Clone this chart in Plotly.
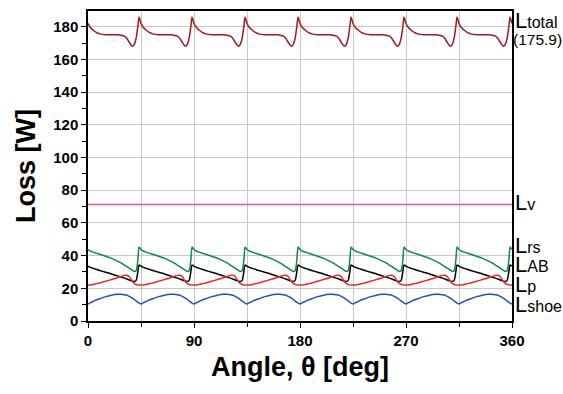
import plotly.graph_objects as go

# One 45-degree period of each curve (angle offset in deg)
period_deg = 45
n_periods = 8
phi = [0, 2, 4.5, 7, 10, 15, 20, 25, 28, 31, 33, 35, 36.5, 38, 39.5, 41, 42.3, 43.3, 44.2]

L_total = [182, 179.5, 177.8, 176.5, 175.6, 175.1, 175, 175, 174.8, 174.2, 172.8, 170.5, 168.8, 168, 169.5, 173.5, 180, 186, 184]
L_rs = [43.7, 42.8, 42.1, 41.5, 40.8, 39.6, 38.3, 36.6, 35.5, 34.2, 33.3, 32.3, 31.6, 30.8, 30.2, 31, 37, 45.3, 44.5]
L_AB = [33.6, 32.8, 32.2, 31.6, 30.9, 29.8, 28.8, 27.6, 26.9, 26.2, 25.7, 25.1, 24.7, 24.4, 24.2, 25, 30, 34.2, 34]
L_p = [22, 22, 22.3, 22.8, 23.3, 24.3, 25.4, 26.5, 27.3, 27.9, 28, 27.2, 25.5, 23.8, 22.8, 22.3, 22.1, 22, 22]
L_shoe = [10.4, 11.2, 12, 12.8, 13.6, 14.9, 15.8, 16.3, 16.4, 16.1, 15.8, 15.1, 14.5, 13.8, 13, 12.2, 11.5, 11, 10.6]
L_v = 71.2
L_total_mean = "175.9"

x_ticks = [0, 90, 180, 270, 360]
y_ticks = [0, 20, 40, 60, 80, 100, 120, 140, 160, 180]


def tile(vals):
    xs, ys = [], []
    for k in range(n_periods):
        for p, v in zip(phi, vals):
            xs.append(k * period_deg + p)
            ys.append(v)
    xs.append(n_periods * period_deg)
    ys.append(vals[0])
    return xs, ys


FONT = "Liberation Sans, Arial, sans-serif"
LFONT = "Liberation Sans Narrow, Arial Narrow, Liberation Sans, sans-serif"
fig = go.Figure()

series = [
    (L_total, "#9b1b1f", "L_total"),
    (L_rs, "#0d8a45", "L_rs"),
    (L_AB, "#000000", "L_AB"),
    (L_p, "#f0282d", "L_p"),
    (L_shoe, "#2a4fb0", "L_shoe"),
]
for vals, col, name in series:
    xs, ys = tile(vals)
    fig.add_trace(go.Scatter(x=xs, y=ys, mode="lines", name=name,
                             line=dict(color=col, width=1.5, shape="spline", smoothing=0.5)))

fig.add_trace(go.Scatter(x=[0, 360], y=[L_v, L_v], mode="lines", name="L_v",
                         line=dict(color="#e05aa8", width=1.5)))

labels = [
    ("L<span style='font-size:16px'>total</span>", 184.0),
    ("L<span style='font-size:16px'>v</span>", 72.6),
    ("L<span style='font-size:16px'>rs</span>", 46.3),
    ("L<span style='font-size:16px'>AB</span>", 34.3),
    ("L<span style='font-size:16px'>p</span>", 22.2),
    ("L<span style='font-size:16px'>shoe</span>", 10.4),
]
for txt, yv in labels:
    fig.add_annotation(x=1, xref="paper", y=yv, yref="y", text=txt, showarrow=False,
                       xanchor="left", yanchor="middle", xshift=1,
                       font=dict(family=LFONT, size=22, color="black"))
fig.add_annotation(x=1, xref="paper", y=172, yref="y", text="(" + L_total_mean + ")",
                   showarrow=False, xanchor="left", yanchor="middle", xshift=-1,
                   font=dict(family=LFONT, size=15.5, color="black"))

fig.update_layout(
    width=563, height=394,
    margin=dict(l=88, r=51, t=9, b=73),
    paper_bgcolor="white", plot_bgcolor="white",
    showlegend=False,
    font=dict(family=FONT, color="black"),
)
fig.update_xaxes(
    range=[0, 360], tickvals=x_ticks, ticktext=[str(v) for v in x_ticks],
    ticks="outside", ticklen=5, tickwidth=1.2, tickcolor="black",
    tickfont=dict(family=FONT, size=15, color="black", weight="bold"),
    showline=True, linecolor="black", linewidth=1.5, mirror=True,
    showgrid=True, gridcolor="#c8c8c8", gridwidth=1,
    minor=dict(dtick=45, tick0=0, ticks="outside", ticklen=4, tickcolor="black",
               showgrid=True, gridcolor="#c8c8c8", gridwidth=1),
    zeroline=False,
    title=dict(text="Angle, θ [deg]", font=dict(family=FONT, size=27, color="black", weight="bold"),
               standoff=9),
)
fig.update_yaxes(
    range=[0, 189.6], tickvals=y_ticks, ticktext=[str(v) for v in y_ticks],
    ticks="outside", ticklen=5, tickwidth=1.2, tickcolor="black",
    tickfont=dict(family=FONT, size=15, color="black", weight="bold"),
    showline=True, linecolor="black", linewidth=1.5, mirror=True,
    showgrid=True, gridcolor="#c8c8c8", gridwidth=1,
    minor=dict(dtick=10, tick0=0, ticks="outside", ticklen=4, tickcolor="black", showgrid=False),
    zeroline=False,
    title=dict(text="Loss [W]", font=dict(family=FONT, size=27, color="black", weight="bold"),
               standoff=10),
)

fig.write_html("out.html")
